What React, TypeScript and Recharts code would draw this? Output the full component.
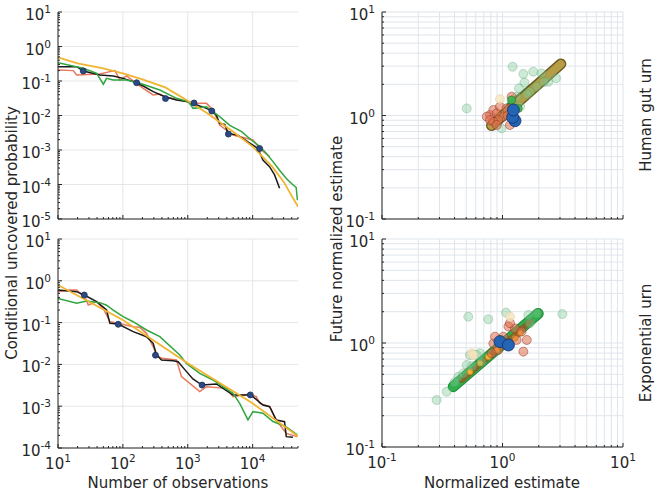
import React from 'react';
import { ComposedChart, Line, Scatter, XAxis, YAxis, CartesianGrid } from 'recharts';

const FONT = "'DejaVu Sans', 'Liberation Sans', sans-serif";
const INK = '#262626';

// ---- left column: conditional uncovered probability vs number of observations ----
type Pt = [number, number];

const gutBlack: Pt[] = [
  [10, 0.26], [19.4, 0.26], [24.5, 0.195], [44.3, 0.149], [71, 0.14], [101, 0.119], [144, 0.0957],
  [206, 0.0716], [293, 0.049], [443, 0.0351], [670, 0.0281], [1010, 0.0252], [1530, 0.0188],
  [1940, 0.0161], [2450, 0.0129], [2760, 0.0102], [3100, 0.0059], [3720, 0.0055], [4190, 0.003],
  [5920, 0.0027], [8920, 0.0016], [12000, 0.00112], [14400, 0.00051], [18200, 0.00033],
  [21800, 0.00019], [26000, 0.000078],
];
const gutRed: Pt[] = [
  [10, 0.208], [17.2, 0.2], [19.4, 0.149], [44.3, 0.16], [63.1, 0.187], [75.3, 0.2], [90, 0.107],
  [114, 0.14], [162, 0.0856], [206, 0.0612], [293, 0.0393], [371, 0.042], [443, 0.0351],
  [670, 0.0294], [1010, 0.0252], [1140, 0.0216], [1530, 0.0225], [1940, 0.0225], [2450, 0.0144],
  [3100, 0.00531], [4980, 0.00272], [10100, 0.00195], [13600, 0.001], [18300, 0.00064],
];
const gutGreen: Pt[] = [
  [10, 0.34], [24.5, 0.233], [39.4, 0.167], [50, 0.081], [56, 0.12], [71, 0.107], [114, 0.107],
  [183, 0.0856], [371, 0.0548], [670, 0.0315], [1010, 0.0252], [1210, 0.0161], [1940, 0.018],
  [3100, 0.0093], [4450, 0.0052], [6760, 0.0034], [9550, 0.00195], [12900, 0.00126],
  [16300, 0.00079], [20600, 0.00046], [26000, 0.00026], [33000, 0.00015], [41700, 0.000098],
  [46800, 0.000083], [49000, 0.000035],
];
const gutYellow: Pt[] = [
  [10, 0.485], [20, 0.325], [50, 0.233], [100, 0.167], [200, 0.112], [450, 0.0654], [1000, 0.0269],
  [2000, 0.0116], [5000, 0.0034], [10000, 0.00125], [20000, 0.00033], [30000, 0.000121],
  [38000, 0.0000555], [50000, 0.0000228],
];
const gutDots: Pt[] = [
  [24.5, 0.195], [163, 0.089], [454, 0.031], [1250, 0.023], [2350, 0.0135], [4230, 0.0029], [12800, 0.0011],
];

const expBlack: Pt[] = [
  [10, 0.603], [19.4, 0.55], [25.4, 0.457], [39.4, 0.317], [56.1, 0.2], [63.1, 0.096], [84.7, 0.0927],
  [144, 0.0607], [231, 0.046], [293, 0.0319], [330, 0.0168], [394, 0.0127], [594, 0.0123],
  [710, 0.0116], [900, 0.0075], [1200, 0.0045], [1660, 0.00321], [2760, 0.0034], [4980, 0.00185],
  [9200, 0.00185], [10100, 0.00169], [14400, 0.00107], [18300, 0.000975], [23100, 0.000468],
  [31000, 0.000427], [33000, 0.000187], [41800, 0.00018],
];
const expRed: Pt[] = [
  [10, 0.55], [15.3, 0.603], [19.4, 0.603], [21.8, 0.501], [26, 0.417], [29.3, 0.264], [39.4, 0.317],
  [49.8, 0.219], [63.1, 0.105], [84.7, 0.096], [144, 0.08], [183, 0.077], [231, 0.0554], [245, 0.046],
  [293, 0.0265], [330, 0.0168], [394, 0.014], [670, 0.0127], [800, 0.0051], [1530, 0.00223],
  [1940, 0.00293], [3940, 0.00267], [4980, 0.00169], [8990, 0.00196], [11400, 0.00169],
  [12800, 0.00117], [18300, 0.000975], [23100, 0.000468], [33000, 0.000224], [48600, 0.000187],
];
const expGreen: Pt[] = [
  [10, 0.38], [19.4, 0.29], [27.5, 0.33], [44.3, 0.3], [56.1, 0.26], [71, 0.2], [101, 0.139],
  [144, 0.105], [231, 0.0665], [371, 0.046], [753, 0.0168], [953, 0.0106], [1530, 0.0061],
  [2450, 0.00424], [4980, 0.00203], [6310, 0.00117], [8470, 0.00047], [10100, 0.00074],
  [14400, 0.00068], [20600, 0.00043], [33000, 0.00032], [48600, 0.000205],
];
const expYellow: Pt[] = [
  [10, 0.79], [100, 0.115], [1000, 0.0106], [10000, 0.00117], [50000, 0.00019],
];
const expDots: Pt[] = [
  [25.4, 0.457], [84.7, 0.091], [318, 0.0166], [1660, 0.0032], [9200, 0.00186],
];

// ---- right column: future normalized estimate vs normalized estimate ----
const gutPale: Pt[] = [
  [0.505, 1.17], [1.214, 2.96], [1.49, 2.52], [1.8, 2.65], [2.11, 2.55], [1.52, 2.08], [1.37, 1.83],
  [2.78, 2.29], [2.4, 2.12], [1.69, 1.7], [1.92, 1.9], [0.984, 0.75], [1.19, 1.41], [1.4, 1.22],
  [1.31, 1.52], [1.6, 1.6], [2.2, 2.1],
];
const gutRedPts: Pt[] = [
  [0.787, 1.01], [0.84, 1.13], [0.895, 1.05], [0.953, 1.22], [1.016, 0.975], [1.083, 1.17],
  [1.19, 1.52], [0.923, 0.905], [0.84, 0.87], [1.154, 0.81], [0.74, 0.975], [0.895, 0.81],
  [0.787, 0.905], [1.1, 1.0],
];
const gutGreenPts: Pt[] = [[1.19, 1.41], [1.35, 1.17]];
const gutCream: Pt[] = [[0.953, 1.44]];
const gutBlue: Pt[] = [[1.27, 0.89], [1.214, 0.96], [1.23, 1.13]];
const gutBand: Pt[] = [[0.81, 0.8], [3.05, 3.15]];
const gutBandEdge: Pt[] = [[1.15, 1.26], [2.9, 3.07]];

const expPale: Pt[] = [
  [0.52, 1.79], [0.762, 1.69], [1.07, 1.96], [1.64, 1.86], [1.92, 1.93], [3.14, 1.9], [0.284, 0.283],
  [0.344, 0.34], [0.43, 0.474], [0.505, 0.614], [0.537, 0.767], [0.61, 0.767], [0.65, 0.796],
  [0.473, 0.511], [0.671, 0.662], [1.69, 1.55], [0.4, 0.42], [0.56, 0.6],
];
const expRedPts: Pt[] = [
  [0.84, 0.99], [0.953, 1.07], [1.016, 1.15], [1.12, 1.44], [1.27, 1.38], [1.083, 0.99], [1.31, 1.07],
  [1.49, 0.826], [1.59, 1.07], [1.44, 1.29], [0.923, 0.857], [0.813, 0.796], [1.154, 1.55], [0.867, 1.15],
];
const expCream: Pt[] = [[1.154, 1.79], [0.555, 0.796], [0.573, 0.767]];
const expBlue: Pt[] = [[0.953, 1.03], [1.12, 0.957]];
const expYellowPts: Pt[] = [
  [0.537, 0.53], [0.65, 0.64], [0.762, 0.738], [0.895, 0.857], [1.154, 0.99], [1.27, 1.11], [1.4, 1.24],
];
const expBand: Pt[] = [[0.39, 0.38], [1.98, 1.92]];
const expOlive: Pt[] = [[0.46, 0.44], [1.69, 1.6]];

// ---- ticks ----
const MINOR = [2, 3, 4, 5, 6, 7, 8, 9];
const OBS_MAJOR = [10, 100, 1000, 10000];
const GUT_P_MAJOR = [1e-5, 1e-4, 1e-3, 1e-2, 1e-1, 1, 10];
const EXP_P_MAJOR = [1e-4, 1e-3, 1e-2, 1e-1, 1, 10];
const EST_MAJOR = [0.1, 1, 10];

const withMinor = (majors: number[], max: number) => {
  const out: number[] = [];
  majors.forEach((m) => {
    out.push(m);
    MINOR.forEach((k) => {
      const v = Number((m * k).toPrecision(6));
      if (v <= max * 1.0001) out.push(v);
    });
  });
  return out.filter((v) => v <= max * 1.0001);
};

const OBS_TICKS = withMinor(OBS_MAJOR, 50000);
const GUT_P_TICKS = withMinor(GUT_P_MAJOR, 10);
const EXP_P_TICKS = withMinor(EXP_P_MAJOR, 10);
const EST_TICKS = withMinor(EST_MAJOR, 10);

const toPts = (a: Pt[]) => a.map(([x, y]) => ({ x, y }));

const isMajor = (v: number) => Math.abs(Math.log10(v) - Math.round(Math.log10(v))) < 1e-6;

type Side = 'bottom' | 'top' | 'left' | 'right';

function makeTick(side: Side, labels: boolean) {
  return (props: any) => {
    const { x, y, payload } = props;
    const v = payload.value as number;
    const major = isMajor(v);
    const len = major ? 4 : 2;
    let x2 = x;
    let y2 = y;
    if (side === 'bottom') y2 = y - len;
    if (side === 'top') y2 = y + len;
    if (side === 'left') x2 = x + len;
    if (side === 'right') x2 = x - len;
    let label = null;
    if (labels && major) {
      const exp = String(Math.round(Math.log10(v)));
      const body = [
        <tspan key="b">10</tspan>,
        <tspan key="e" dy={-7} fontSize={10.5}>{exp}</tspan>,
      ];
      label =
        side === 'bottom' ? (
          <text x={x} y={y + 21} textAnchor="middle" fontSize={15} fill={INK} fontFamily={FONT}>{body}</text>
        ) : (
          <text x={x - 7} y={y + 8} textAnchor="end" fontSize={15} fill={INK} fontFamily={FONT}>{body}</text>
        );
    }
    return (
      <g>
        <line x1={x} y1={y} x2={x2} y2={y2} stroke={INK} strokeWidth={1} />
        {label}
      </g>
    );
  };
}

function frameAxes(o: {
  xDomain: [number, number];
  xTicks: number[];
  yDomain: [number, number];
  yTicks: number[];
  xLabels: boolean;
  xHeight: number;
  yWidth: number;
}) {
  const common = {
    type: 'number' as const,
    scale: 'log' as const,
    allowDataOverflow: true,
    interval: 0 as const,
    tickSize: 0,
    tickMargin: 0,
    tickLine: false,
    axisLine: { stroke: INK, strokeWidth: 1 },
  };
  return [
    <XAxis key="xb" {...common} dataKey="x" domain={o.xDomain} ticks={o.xTicks} height={o.xHeight} tick={makeTick('bottom', o.xLabels)} />,
    <XAxis key="xt" {...common} xAxisId="top" orientation="top" domain={o.xDomain} ticks={o.xTicks} height={0} tick={makeTick('top', false)} />,
    <YAxis key="yl" {...common} dataKey="y" domain={o.yDomain} ticks={o.yTicks} width={o.yWidth} tick={makeTick('left', true)} />,
    <YAxis key="yr" {...common} yAxisId="right" orientation="right" domain={o.yDomain} ticks={o.yTicks} width={0} tick={makeTick('right', false)} />,
  ];
}

const circle = (r: number, fill: string, stroke: string, fillOpacity = 1, strokeOpacity = 1) => (p: any) =>
  <circle cx={p.cx} cy={p.cy} r={r} fill={fill} fillOpacity={fillOpacity} stroke={stroke} strokeOpacity={strokeOpacity} strokeWidth={0.8} />;

const trace = (key: string, data: Pt[], color: string, width = 1.5) => (
  <Line key={key} data={toPts(data)} dataKey="y" type="linear" stroke={color} strokeWidth={width} dot={false} isAnimationActive={false} />
);

const pts = (key: string, data: Pt[], shape: (p: any) => React.ReactElement) => (
  <Scatter key={key} data={toPts(data)} dataKey="y" shape={shape} isAnimationActive={false} />
);

const band = (key: string, data: Pt[], color: string, width: number) => (
  <Line key={key} data={toPts(data)} dataKey="y" stroke={color} strokeWidth={width} strokeLinecap="round" dot={false} isAnimationActive={false} />
);

const RED = '#e8785e';
const BLACK = '#1a1a1a';
const GREEN = '#2fa63f';
const YELLOW = '#f0b430';
const BLUE = '#2b4a85';

const leftGridX = OBS_MAJOR;
const estGrid = EST_TICKS;

function LeftPanel(props: { top: number; height: number; plotH: number; yDomain: [number, number]; yTicks: number[]; yMajor: number[]; labels: boolean; children: React.ReactNode }) {
  const { top, height, plotH, yDomain, yTicks, yMajor, labels } = props;
  return (
    <div style={{ position: 'absolute', left: 0, top }}>
      <ComposedChart width={318} height={height} margin={{ top: 12, right: 20, left: 0, bottom: 0 }}>
        <CartesianGrid stroke="#e6e6e6" verticalValues={leftGridX} horizontalValues={yMajor} />
        {frameAxes({ xDomain: [10, 50000], xTicks: OBS_TICKS, yDomain, yTicks, xLabels: labels, xHeight: height - 12 - plotH, yWidth: 58 })}
        {props.children}
      </ComposedChart>
    </div>
  );
}

function RightPanel(props: { top: number; height: number; plotH: number; labels: boolean; children: React.ReactNode }) {
  const { top, height, plotH, labels } = props;
  return (
    <div style={{ position: 'absolute', left: 330, top }}>
      <ComposedChart width={323} height={height} margin={{ top: 12, right: 30, left: 0, bottom: 0 }}>
        <CartesianGrid stroke="#dfe5eb" verticalValues={estGrid} horizontalValues={estGrid} />
        {frameAxes({ xDomain: [0.1, 10], xTicks: EST_TICKS, yDomain: [0.1, 10], yTicks: EST_TICKS, xLabels: labels, xHeight: height - 12 - plotH, yWidth: 52 })}
        {props.children}
      </ComposedChart>
    </div>
  );
}

export default function App() {
  return (
    <div style={{ position: 'absolute', left: 0, top: 0, width: 657, height: 492, background: '#fff', fontFamily: FONT }}>
      <LeftPanel top={0} height={244} plotH={207} yDomain={[1e-5, 10]} yTicks={GUT_P_TICKS} yMajor={GUT_P_MAJOR} labels={false}>
        {trace('r', gutRed, RED)}
        {trace('k', gutBlack, BLACK)}
        {trace('g', gutGreen, GREEN)}
        {trace('y', gutYellow, YELLOW, 1.8)}
        {pts('d', gutDots, circle(3, BLUE, '#1c2f55'))}
      </LeftPanel>
      <LeftPanel top={227} height={265} plotH={209} yDomain={[1e-4, 10]} yTicks={EXP_P_TICKS} yMajor={EXP_P_MAJOR} labels>
        {trace('r', expRed, RED)}
        {trace('k', expBlack, BLACK)}
        {trace('g', expGreen, GREEN)}
        {trace('y', expYellow, YELLOW, 1.8)}
        {pts('d', expDots, circle(3, BLUE, '#1c2f55'))}
      </LeftPanel>
      <RightPanel top={0} height={244} plotH={207} labels={false}>
        {band('ge', gutBandEdge, '#2f9a3c', 7)}
        {band('b1', gutBand, '#6e5c22', 11)}
        {band('b2', gutBand, '#b59c45', 8)}
        {pts('pg', gutPale, circle(4.5, '#7fcb95', '#4f9a66', 0.4, 0.4))}
        {pts('rd', gutRedPts, circle(4.5, '#e0704f', '#8a3020', 0.55, 0.6))}
        {pts('gs', gutGreenPts, circle(4, '#3cb44c', '#2a7a36', 0.9, 0.8))}
        {pts('cr', gutCream, circle(4.5, '#f6e3bd', '#d8c8a0', 0.8, 0.6))}
        {pts('bl', gutBlue, circle(6, '#2364b4', '#15306a'))}
      </RightPanel>
      <RightPanel top={227} height={265} plotH={208} labels>
        {band('g1', expBand, '#1f8a3a', 11)}
        {band('g2', expBand, '#2fb04c', 9)}
        {band('ol', expOlive, '#7d6a28', 6)}
        {pts('ye', expYellowPts, circle(3, YELLOW, '#b98a20'))}
        {pts('pg', expPale, circle(4.5, '#7fcb95', '#4f9a66', 0.4, 0.4))}
        {pts('rd', expRedPts, circle(4.5, '#e0704f', '#8a3020', 0.55, 0.6))}
        {pts('cr', expCream, circle(4.5, '#f6e3bd', '#d8c8a0', 0.8, 0.6))}
        {pts('bl', expBlue, circle(6, '#2364b4', '#15306a'))}
      </RightPanel>
      <svg width={657} height={492} style={{ position: 'absolute', left: 0, top: 0, pointerEvents: 'none' }} fontFamily={FONT} fontSize={15} fill={INK}>
        <text x={12} y={233} textAnchor="middle" dominantBaseline="central" transform="rotate(-90 12 233)">Conditional uncovered probability</text>
        <text x={337} y={239} textAnchor="middle" dominantBaseline="central" transform="rotate(-90 337 239)">Future normalized estimate</text>
        <text x={646} y={115} textAnchor="middle" dominantBaseline="central" transform="rotate(-90 646 115)">Human gut urn</text>
        <text x={646} y={343} textAnchor="middle" dominantBaseline="central" transform="rotate(-90 646 343)">Exponential urn</text>
        <text x={178} y={488} textAnchor="middle">Number of observations</text>
        <text x={502} y={488} textAnchor="middle">Normalized estimate</text>
      </svg>
    </div>
  );
}
